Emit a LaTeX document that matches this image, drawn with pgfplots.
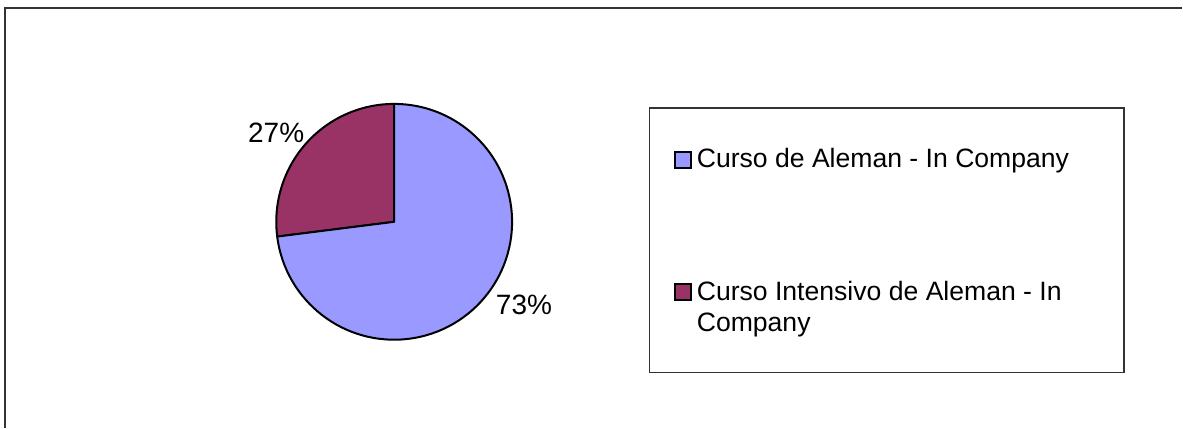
\documentclass[border=0pt]{standalone}
\usepackage{pgfplots}
\usepackage{pgfplotstable}
\pgfplotsset{compat=1.18}
\usepackage{fontspec}
\setmainfont{Liberation Sans}
\definecolor{pieblue}{HTML}{9999FF}
\definecolor{piepurple}{HTML}{993366}
\definecolor{framegray}{HTML}{333333}

\pgfplotstableread{
value
73
27
}\piedata

\begin{document}
\begin{tikzpicture}
\pgfplotstablegetelem{0}{value}\of\piedata
\pgfmathsetmacro{\va}{\pgfplotsretval}
\pgfplotstablegetelem{1}{value}\of\piedata
\pgfmathsetmacro{\vb}{\pgfplotsretval}
\pgfmathsetmacro{\tot}{\va+\vb}
% second series starts at 12 o'clock, counter-clockwise
\pgfmathsetmacro{\angB}{90+360*\vb/\tot}
\pgfmathsetmacro{\angEnd}{450}
\begin{axis}[
  x=0.5pt, y=0.5pt,
  xmin=0, xmax=1183, ymin=0, ymax=428,
  scale only axis, hide axis, clip=false,
  font=\fontsize{13.3}{15.5}\selectfont,
]
\path (axis cs:0,0) rectangle (axis cs:1183,428);
% outer frame (left and top visible)
\draw[framegray, line width=1pt] (axis cs:5.5,0) -- (axis cs:5.5,419.7) -- (axis cs:1183,419.7);
% pie
\filldraw[fill=piepurple, draw=black, line width=1pt, line join=round]
  (axis cs:394.5,206) -- ++(90:59pt) arc[start angle=90, end angle=\angB, radius=59pt] -- cycle;
\filldraw[fill=pieblue, draw=black, line width=1pt, line join=round]
  (axis cs:394.5,206) -- ++(\angB:59pt) arc[start angle=\angB, end angle=\angEnd, radius=59pt] -- cycle;
% labels
\node[anchor=base west, inner sep=0pt, font=\fontsize{14}{16}\selectfont] at (axis cs:248,285) {27\%};
\node[anchor=base west, inner sep=0pt, font=\fontsize{14}{16}\selectfont] at (axis cs:496,113) {73\%};
% legend
\draw[framegray, line width=0.75pt] (axis cs:650,55) rectangle (axis cs:1125,320);
\filldraw[fill=pieblue, draw=black, line width=1pt] (axis cs:676,260) rectangle (axis cs:692,276);
\filldraw[fill=piepurple, draw=black, line width=1pt] (axis cs:676,128) rectangle (axis cs:692,144);
\node[anchor=base west, inner sep=0pt] at (axis cs:697,260) {Curso de Aleman - In Company};
\node[anchor=base west, inner sep=0pt] at (axis cs:697,127) {Curso Intensivo de Aleman - In};
\node[anchor=base west, inner sep=0pt] at (axis cs:697,96) {Company};
\end{axis}
\end{tikzpicture}
\end{document}
